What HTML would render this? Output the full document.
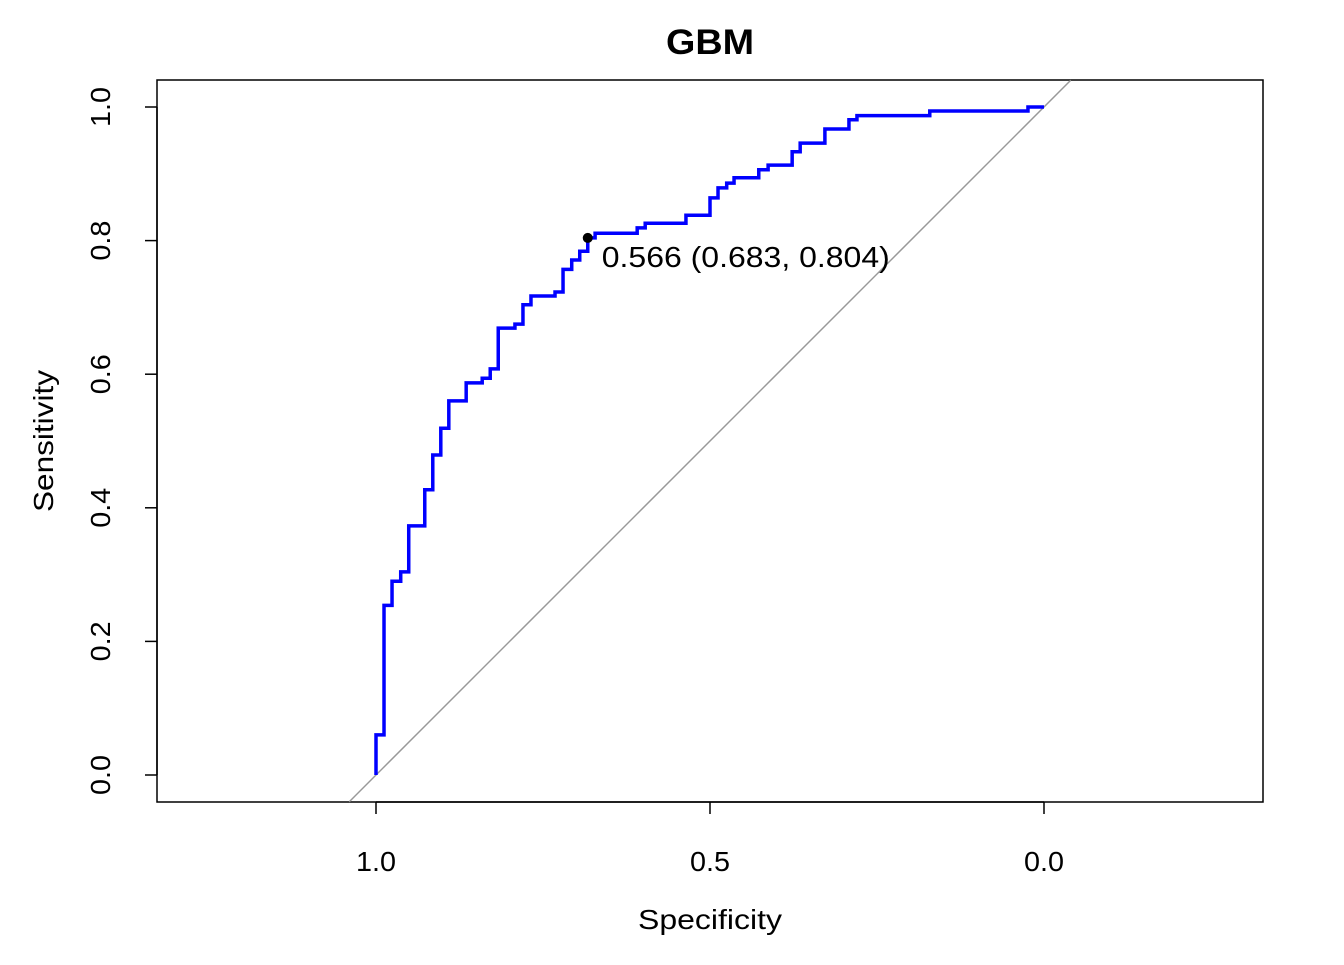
<!DOCTYPE html>
<html><head><meta charset="utf-8"><style>
body{margin:0;background:#fff}
svg text{font-family:"Liberation Sans",Arial,sans-serif;fill:#000}
</style></head><body>
<svg id="chart" width="1344" height="960" viewBox="0 0 1344 960">
<text x="710" y="54" font-size="35" font-weight="bold" text-anchor="middle" textLength="88" lengthAdjust="spacingAndGlyphs">GBM</text>
<rect x="157" y="80" width="1106" height="722" fill="none" stroke="#000" stroke-width="1.5"/>
<g id="axes"></g>
<g id="marks"></g>
<text x="710" y="929" font-size="28" text-anchor="middle" textLength="144" lengthAdjust="spacingAndGlyphs">Specificity</text>
<text transform="translate(53,441) rotate(-90)" font-size="28" text-anchor="middle" textLength="142" lengthAdjust="spacingAndGlyphs">Sensitivity</text>
</svg>
<script>
const specificity=[1,1,.988,.988,.976,.976,.963,.963,.951,.951,.927,.927,.915,.915,.903,.903,.891,.891,.865,.865,.841,.841,.829,.829,.817,.817,.792,.792,.780,.780,.768,.768,.732,.732,.720,.720,.707,.707,.695,.695,.683,.683,.672,.672,.609,.609,.597,.597,.536,.536,.5,.5,.488,.488,.475,.475,.464,.464,.427,.427,.413,.413,.377,.377,.365,.365,.328,.328,.292,.292,.280,.280,.171,.171,.024,.024,0];
const sensitivity=[0,.060,.060,.254,.254,.290,.290,.304,.304,.373,.373,.427,.427,.479,.479,.519,.519,.560,.560,.587,.587,.594,.594,.608,.608,.669,.669,.675,.675,.704,.704,.717,.717,.723,.723,.757,.757,.771,.771,.784,.784,.804,.804,.811,.811,.819,.819,.826,.826,.838,.838,.864,.864,.879,.879,.886,.886,.894,.894,.906,.906,.913,.913,.933,.933,.946,.946,.967,.967,.981,.981,.987,.987,.994,.994,1,1];
const xTicks=[1.0,0.5,0.0];
const xTickLabels=["1.0","0.5","0.0"];
const yTicks=[0,0.2,0.4,0.6,0.8,1.0];
const yTickLabels=["0.0","0.2","0.4","0.6","0.8","1.0"];
const best={threshold:"0.566",spec:0.683,sens:0.804};
const sx=v=>1044-668*v, sy=v=>775-668*v;
const NS="http://www.w3.org/2000/svg";
const axes=document.getElementById('axes'), marks=document.getElementById('marks');
function mk(tag,attrs,parent){const e=document.createElementNS(NS,tag);for(const k in attrs)e.setAttribute(k,attrs[k]);parent.appendChild(e);return e;}
xTicks.forEach((t,i)=>{
  const l=mk('line',{x1:sx(t),x2:sx(t),y1:802,y2:814,stroke:'#000','stroke-width':1.5},axes);
  
  
  const tx=mk('text',{x:sx(t),y:871,'font-size':28,'text-anchor':'middle',textLength:40,lengthAdjust:'spacingAndGlyphs'},axes);tx.textContent=xTickLabels[i];
  
  
});
mk('line',{x1:sx(1),x2:sx(0),y1:802,y2:802,stroke:'#000','stroke-width':1.5},axes);
mk('line',{x1:157,x2:157,y1:sy(0),y2:sy(1),stroke:'#000','stroke-width':1.5},axes);
yTicks.forEach((t,i)=>{
  const l=mk('line',{x1:145,x2:157,y1:sy(t),y2:sy(t),stroke:'#000','stroke-width':1.5},axes);
  
  
  const tx=mk('text',{transform:`translate(110,${sy(t)}) rotate(-90)`,'font-size':28,'text-anchor':'middle',textLength:40,lengthAdjust:'spacingAndGlyphs'},axes);tx.textContent=yTickLabels[i];
  
  
});
const d0=1.04, d1=-0.04;
const diag=mk('line',{x1:sx(1-d1),y1:sy(d1),x2:sx(1-d0),y2:sy(d0),stroke:'#999','stroke-width':1.5},marks);


const pts=specificity.map((s,i)=>sx(s)+','+sy(sensitivity[i])).join(' ');
const roc=mk('polyline',{points:pts,fill:'none',stroke:'#0000ff','stroke-width':3.5},marks);


const dot=mk('circle',{cx:sx(best.spec),cy:sy(best.sens),r:5,fill:'#000'},marks);


const lab=mk('text',{x:sx(best.spec)+14,y:sy(best.sens)+29,'font-size':29,textLength:288,lengthAdjust:'spacingAndGlyphs'},marks);
lab.textContent=`${best.threshold} (${best.spec.toFixed(3)}, ${best.sens.toFixed(3)})`;


</script>
</body></html>
